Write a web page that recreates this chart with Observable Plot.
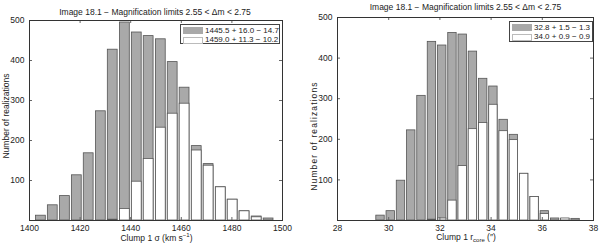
<!DOCTYPE html>
<html><head><meta charset="utf-8">
<script src="https://cdn.jsdelivr.net/npm/d3@7"></script>
<script src="https://cdn.jsdelivr.net/npm/@observablehq/plot@0.6"></script>
<style>
body{margin:0;background:#fff;font-family:"Liberation Sans",Arial,sans-serif;}
#wrap{position:relative;width:600px;height:243px;overflow:hidden;background:#fff}
.panel{position:absolute;top:0;width:300px;height:243px}
.t{position:absolute;font-size:8.5px;color:#222;white-space:nowrap;line-height:1;transform:translate(-50%,-50%)}
.yl{transform:translate(-50%,-50%) rotate(-90deg)}
.wide{letter-spacing:1.1px}
.leg{position:absolute;border:1px solid #444;background:#fff;font-size:8px;color:#222;box-sizing:border-box}
.row{position:absolute;left:2px;height:8px;display:flex;align-items:center;white-space:nowrap;line-height:1}
.sw{width:20px;height:7px;box-sizing:border-box;margin-right:2px}
sub,sup{font-size:6px;line-height:0}
</style>
</head><body>
<div id="wrap">
  <div class="panel" id="p1" style="left:0"></div>
  <div class="panel" id="p2" style="left:300px"></div>
</div>
<script>
// ---- data ----
const title = "Image 18.1 \u2212 Magnification limits 2.55 < \u0394m < 2.75";
const yLabel = "Number of realizations";

// left panel: Clump 1 sigma
const sigmaCenters = [1404.5,1409.2,1414.0,1418.7,1423.4,1428.2,1432.9,1437.7,1442.4,1447.1,1451.9,1456.6,1461.3,1466.1,1470.8,1475.6,1480.3,1485.0,1489.8,1494.5];
const sigmaGray  = [12,38,61,113,168,273,427,495,470,461,453,396,332,186,141,83,52,23,10,5];
const sigmaWhite = [0,0,0,0,0,0,2,29,97,154,232,267,292,175,137,83,52,23,8,0];
const sigmaTicks = [1400,1420,1440,1460,1480,1500];
const sigmaLegend = ["1445.5 + 16.0 \u2212 14.7", "1459.0 + 11.3 \u2212 10.2"];

// right panel: Clump 1 r_core
const rcoreCenters = [29.68,30.08,30.48,30.88,31.28,31.69,32.09,32.49,32.89,33.29,33.69,34.09,34.49,34.89,35.29,35.70,36.10,36.50,36.90,37.30];
const rcoreGray  = [12,23,98,222,307,440,431,462,458,416,349,330,248,211,115,58,23,5,4,4];
const rcoreWhite = [0,0,0,0,0,2,5,49,134,225,240,285,220,198,115,58,16,0,5,0];
const rcoreTicks = [28,30,32,34,36,38];
const rcoreLegend = ["32.8 + 1.5 \u2212 1.3", "34.0 + 0.9 \u2212 0.9"];

const yTicks = [100,200,300,400,500];

// ---- drawing ----
function panel(el, centers, gray, white, xDomain, xTicks, m) {
  const W = 300, H = 243;
  const step = (centers[centers.length-1] - centers[0]) / (centers.length - 1);
  const hw = step * 0.41;
  const rows = centers.map((c, i) => ({c, g: gray[i], w: white[i]}));
  const innerW = W - m.l - m.r, innerH = H - m.t - m.b;
  const fs = "8.5px";
  const svg = Plot.plot({
    width: W, height: H,
    marginLeft: m.l, marginRight: m.r, marginTop: m.t, marginBottom: m.b,
    style: {fontFamily: '"Liberation Sans", Arial, sans-serif', fontSize: fs, color: "#222", background: "#fff"},
    x: {domain: xDomain, label: null},
    y: {domain: [0, 500], label: null},
    marks: [
      Plot.rect(rows.filter(d => d.g > 0), {x1: d => d.c - hw, x2: d => d.c + hw, y1: d => 0, y2: "g", fill: "#a9a9a9", stroke: "#555", strokeWidth: 0.8}),
      Plot.rect(rows.filter(d => d.w > 0), {x1: d => d.c - hw, x2: d => d.c + hw, y1: d => 0, y2: "w", fill: "#fff", stroke: "#555", strokeWidth: 0.8}),
      Plot.tickX(xTicks, {x: d => d, insetTop: innerH - 3, stroke: "#666"}),
      Plot.tickX(xTicks, {x: d => d, insetBottom: innerH - 3, stroke: "#666"}),
      Plot.tickY(yTicks, {y: d => d, insetRight: innerW - 3, stroke: "#666"}),
      Plot.tickY(yTicks, {y: d => d, insetLeft: innerW - 3, stroke: "#666"}),
      Plot.frame({stroke: "#333"}),
      Plot.axisX(xTicks, {tickSize: 0, tickPadding: 4, fontSize: fs, tickFormat: d => String(d)}),
      Plot.axisY(yTicks, {tickSize: 0, tickPadding: 5, fontSize: fs, tickFormat: d => String(d)})
    ]
  });
  el.appendChild(svg);
}

panel(document.getElementById("p1"), sigmaCenters, sigmaGray, sigmaWhite, [1400, 1500], sigmaTicks, {l: 29, r: 18, t: 20, b: 23});
panel(document.getElementById("p2"), rcoreCenters, rcoreGray, rcoreWhite, [28, 38], rcoreTicks, {l: 37, r: 7, t: 17, b: 23});

const wrap = document.getElementById("wrap");
function addText(html, x, y, cls) {
  const d = document.createElement("div");
  d.className = "t" + (cls ? " " + cls : "");
  d.innerHTML = html;
  d.style.left = x + "px"; d.style.top = y + "px";
  wrap.appendChild(d);
}
addText(title, 155, 12);
addText(title, 465.5, 6.5);
addText("Clump 1 \u03c3 (km s<sup>\u22121</sup>)", 156.5, 237.5);
addText("Clump 1 r<sub>core</sub> (\u2033)", 466, 236.5);
addText(yLabel, 6, 116, "yl");
addText(yLabel, 313.5, 136, "yl wide");

function addLegend(labels, x, y, w, h) {
  const L = document.createElement("div");
  L.className = "leg";
  Object.assign(L.style, {left: x + "px", top: y + "px", width: w + "px", height: h + "px"});
  labels.forEach((lab, i) => {
    const r = document.createElement("div");
    r.className = "row";
    r.style.top = (1.5 + i * 9.5) + "px";
    const s = document.createElement("div");
    s.className = "sw";
    s.style.background = i === 0 ? "#a9a9a9" : "#fff";
    s.style.border = i === 0 ? "none" : "1px solid #bbb";
    r.appendChild(s);
    const t = document.createElement("span");
    t.textContent = lab;
    r.appendChild(t);
    L.appendChild(r);
  });
  wrap.appendChild(L);
}
addLegend(sigmaLegend, 180, 24, 100, 20);
addLegend(rcoreLegend, 509, 21, 84, 21);
</script>
</body></html>
